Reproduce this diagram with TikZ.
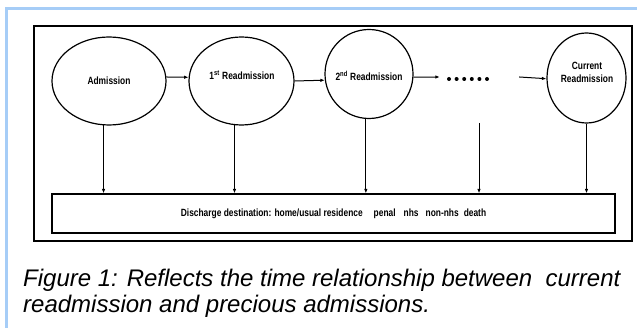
\documentclass[tikz,border=0pt]{standalone}
\usepackage{fontspec}
\setmainfont{Liberation Sans}
\newfontfamily\narrowbold{Liberation Sans}[FakeStretch=0.8]
\usetikzlibrary{shapes.geometric,arrows.meta}
\definecolor{frameblue}{RGB}{166,205,247}
\begin{document}
\begin{tikzpicture}[x=1pt,y=-1pt,
  el/.style={draw, ellipse, line width=1.2pt, inner sep=0pt},
  lbl/.style={font=\narrowbold\bfseries\fontsize{10.5}{12.5}\selectfont, inner sep=0pt, align=center},
  arr/.style={line width=1pt, -{Latex[length=4.5pt,width=3.5pt]}},
  dischargebox/.style={draw, line width=1.2pt, inner sep=0pt, font=\narrowbold\bfseries\fontsize{10.5}{12}\selectfont},
  caption/.style={font=\itshape\fontsize{24}{26.7}\selectfont, inner sep=0pt, align=left, anchor=north west}
]
\useasboundingbox[fill=white] (0,0) rectangle (637,328);
\draw[frameblue, line width=3pt] (6.5,328) -- (6.5,8.5) -- (637,8.5);
\draw[line width=1.3pt] (34,26) rectangle (632,241);

\node[el, minimum width=114pt, minimum height=88pt] (adm) at (109,81) {};
\node[lbl] (tadm) at (109,81) {Admission};
\node[el, minimum width=105pt, minimum height=88pt] (r1) at (241.5,81) {};
\node[lbl] (t1) at (242,75) {1\textsuperscript{st} Readmission};
\node[el, minimum width=88pt, minimum height=89pt] (r2) at (369,74) {};
\node[lbl] (t2) at (369,76) {2\textsuperscript{nd} Readmission};
\node[el, minimum width=79pt, minimum height=90pt] (cur) at (586.5,78) {};
\node[lbl] (tc) at (587,72.5) {Current\\Readmission};

\node[inner sep=0pt, minimum width=42pt, minimum height=4pt] (dots) at (468,77) {};
\foreach \i in {0,...,5} \fill (449+7.6*\i,79) circle[radius=2pt];

\node[dischargebox, minimum width=563pt, minimum height=39pt] (dis) at (333.5,213.5)
  {Discharge destination: home/usual residence\hspace{11pt}penal\hspace{8pt}nhs\hspace{7pt}non-nhs\hspace{5pt}death};

\draw[arr] (adm.4) -- (r1.176);
\draw[arr] (r1.east) -- (r2.188);
\draw[arr] (r2.-4) -- ([xshift=-7pt]dots.west);
\draw[arr] ([xshift=30pt]dots.east) -- (cur.181);

\coordinate (dl) at (479,123);
\draw[arr] (adm.263) -- (adm.263 |- dis.north);
\draw[arr] (r1.261) -- (r1.261 |- dis.north);
\draw[arr] (r2.266) -- (r2.266 |- dis.north);
\draw[arr] (dl) -- (dl |- dis.north);
\draw[arr] (cur.270) -- (cur.270 |- dis.north);

\node[caption] (cap) at (23,268.5) {Figure 1: Reflects the time relationship between\ \ current\\readmission and precious admissions.};
\end{tikzpicture}
\end{document}
